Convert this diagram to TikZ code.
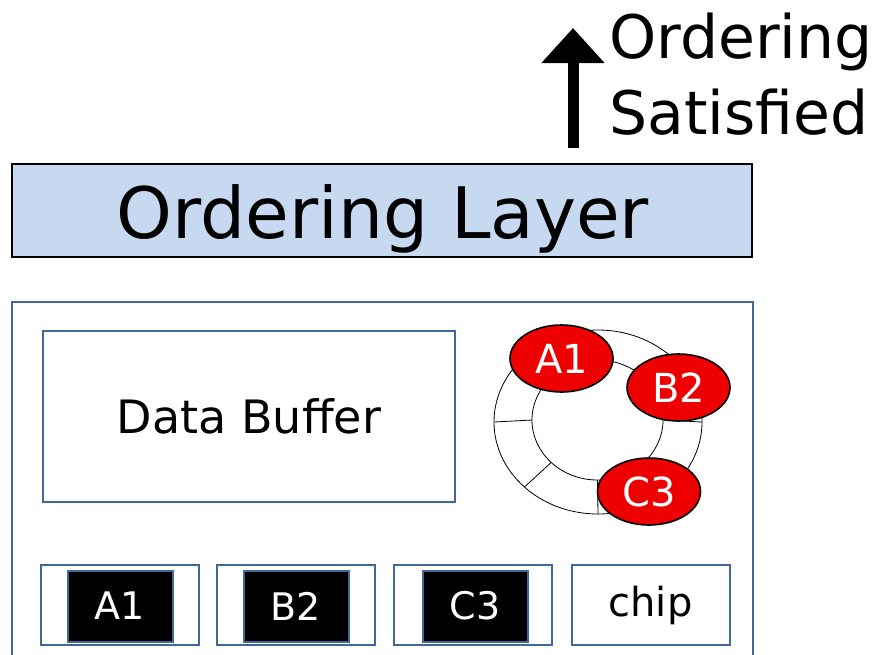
\documentclass[tikz,border=0pt]{standalone}
\usepackage{fontspec}
\setmainfont{DejaVu Sans}
\usetikzlibrary{arrows.meta,shapes.geometric,calc}
\definecolor{layerblue}{HTML}{C6D9F1}
\definecolor{frameblue}{HTML}{41679C}
\definecolor{tokenred}{HTML}{EE0000}

\begin{document}
\begin{tikzpicture}[x=1pt,y=-1pt,
  frame/.style={draw=frameblue, line width=2pt},
  slotbox/.style={frame, fill=white, minimum width=158pt, minimum height=80pt, inner sep=0pt},
  chipcell/.style={frame, fill=black, text=white, minimum width=105pt, minimum height=71pt, inner sep=0pt, font=\fontsize{38}{40}\selectfont},
  token/.style={ellipse, draw=black, line width=1.6pt, fill=tokenred, text=white, minimum width=103pt, minimum height=67pt, inner sep=0pt, font=\fontsize{40}{42}\selectfont},
  ringline/.style={draw=black, line width=0.8pt}
]
\useasboundingbox (0,0) rectangle (889,654);
\clip (0,0) rectangle (889,654);
\fill[white] (0,0) rectangle (889,654);

% ordering layer bar
\node[draw=black, line width=2.4pt, fill=layerblue, minimum width=740pt, minimum height=93pt, inner sep=0pt] (layer) at (382,210.5) {};
\node[anchor=base, inner sep=0pt, font=\fontsize{71}{74}\selectfont] (layertext) at (383,238) {Ordering Layer};

% upward arrow with its caption
\coordinate (arrowfoot) at (573,148);
\coordinate (arrowtip) at (573,28);
\draw[line width=11pt, -{Triangle[length=35pt,width=61pt]}] (arrowfoot) -- (arrowtip);
\node[anchor=base west, inner sep=0pt, font=\fontsize{60}{62}\selectfont] (ordtext) at (609,58) {Ordering};
\node[anchor=base west, inner sep=0pt, font=\fontsize{60}{62}\selectfont] (sattext) at (609,134) {Satisfied};

% chip outline (runs off the bottom edge)
\draw[frame] (12,670) -- (12,302) -- (753,302) -- (753,670);

% data buffer
\node[frame, minimum width=412pt, minimum height=171pt, inner sep=0pt, font=\fontsize{46}{48}\selectfont] (buffer) at (249,416.5) {Data Buffer};

% ring buffer
\draw[ringline] (598,422) ellipse [x radius=104, y radius=92];
\draw[ringline] (597.5,420) ellipse [x radius=65.5, y radius=60];
\foreach \a in {0,180,225,270}{
  \draw[ringline] ($(597.5,420)+({65.5*cos(\a)},{-60*sin(\a)})$) -- ($(598,422)+({104*cos(\a)},{-92*sin(\a)})$);
}

% tokens on the ring
\node[token] (tokA) at (561.5,358.5) {A1};
\node[token] (tokB) at (678.5,387.5) {B2};
\node[token] (tokC) at (649,491.5) {C3};

% bottom slots
\node[slotbox] (slotA) at (120,605) {};
\node[slotbox] (slotB) at (296,605) {};
\node[slotbox] (slotC) at (473,605) {};
\node[slotbox, font=\fontsize{40}{42}\selectfont] (slotD) at (650.5,605) {chip};
\node[chipcell] (cellA) at (120,606) {A1};
\node[chipcell] (cellB) at (296,606) {B2};
\node[chipcell] (cellC) at (475,606) {C3};
\end{tikzpicture}
\end{document}
